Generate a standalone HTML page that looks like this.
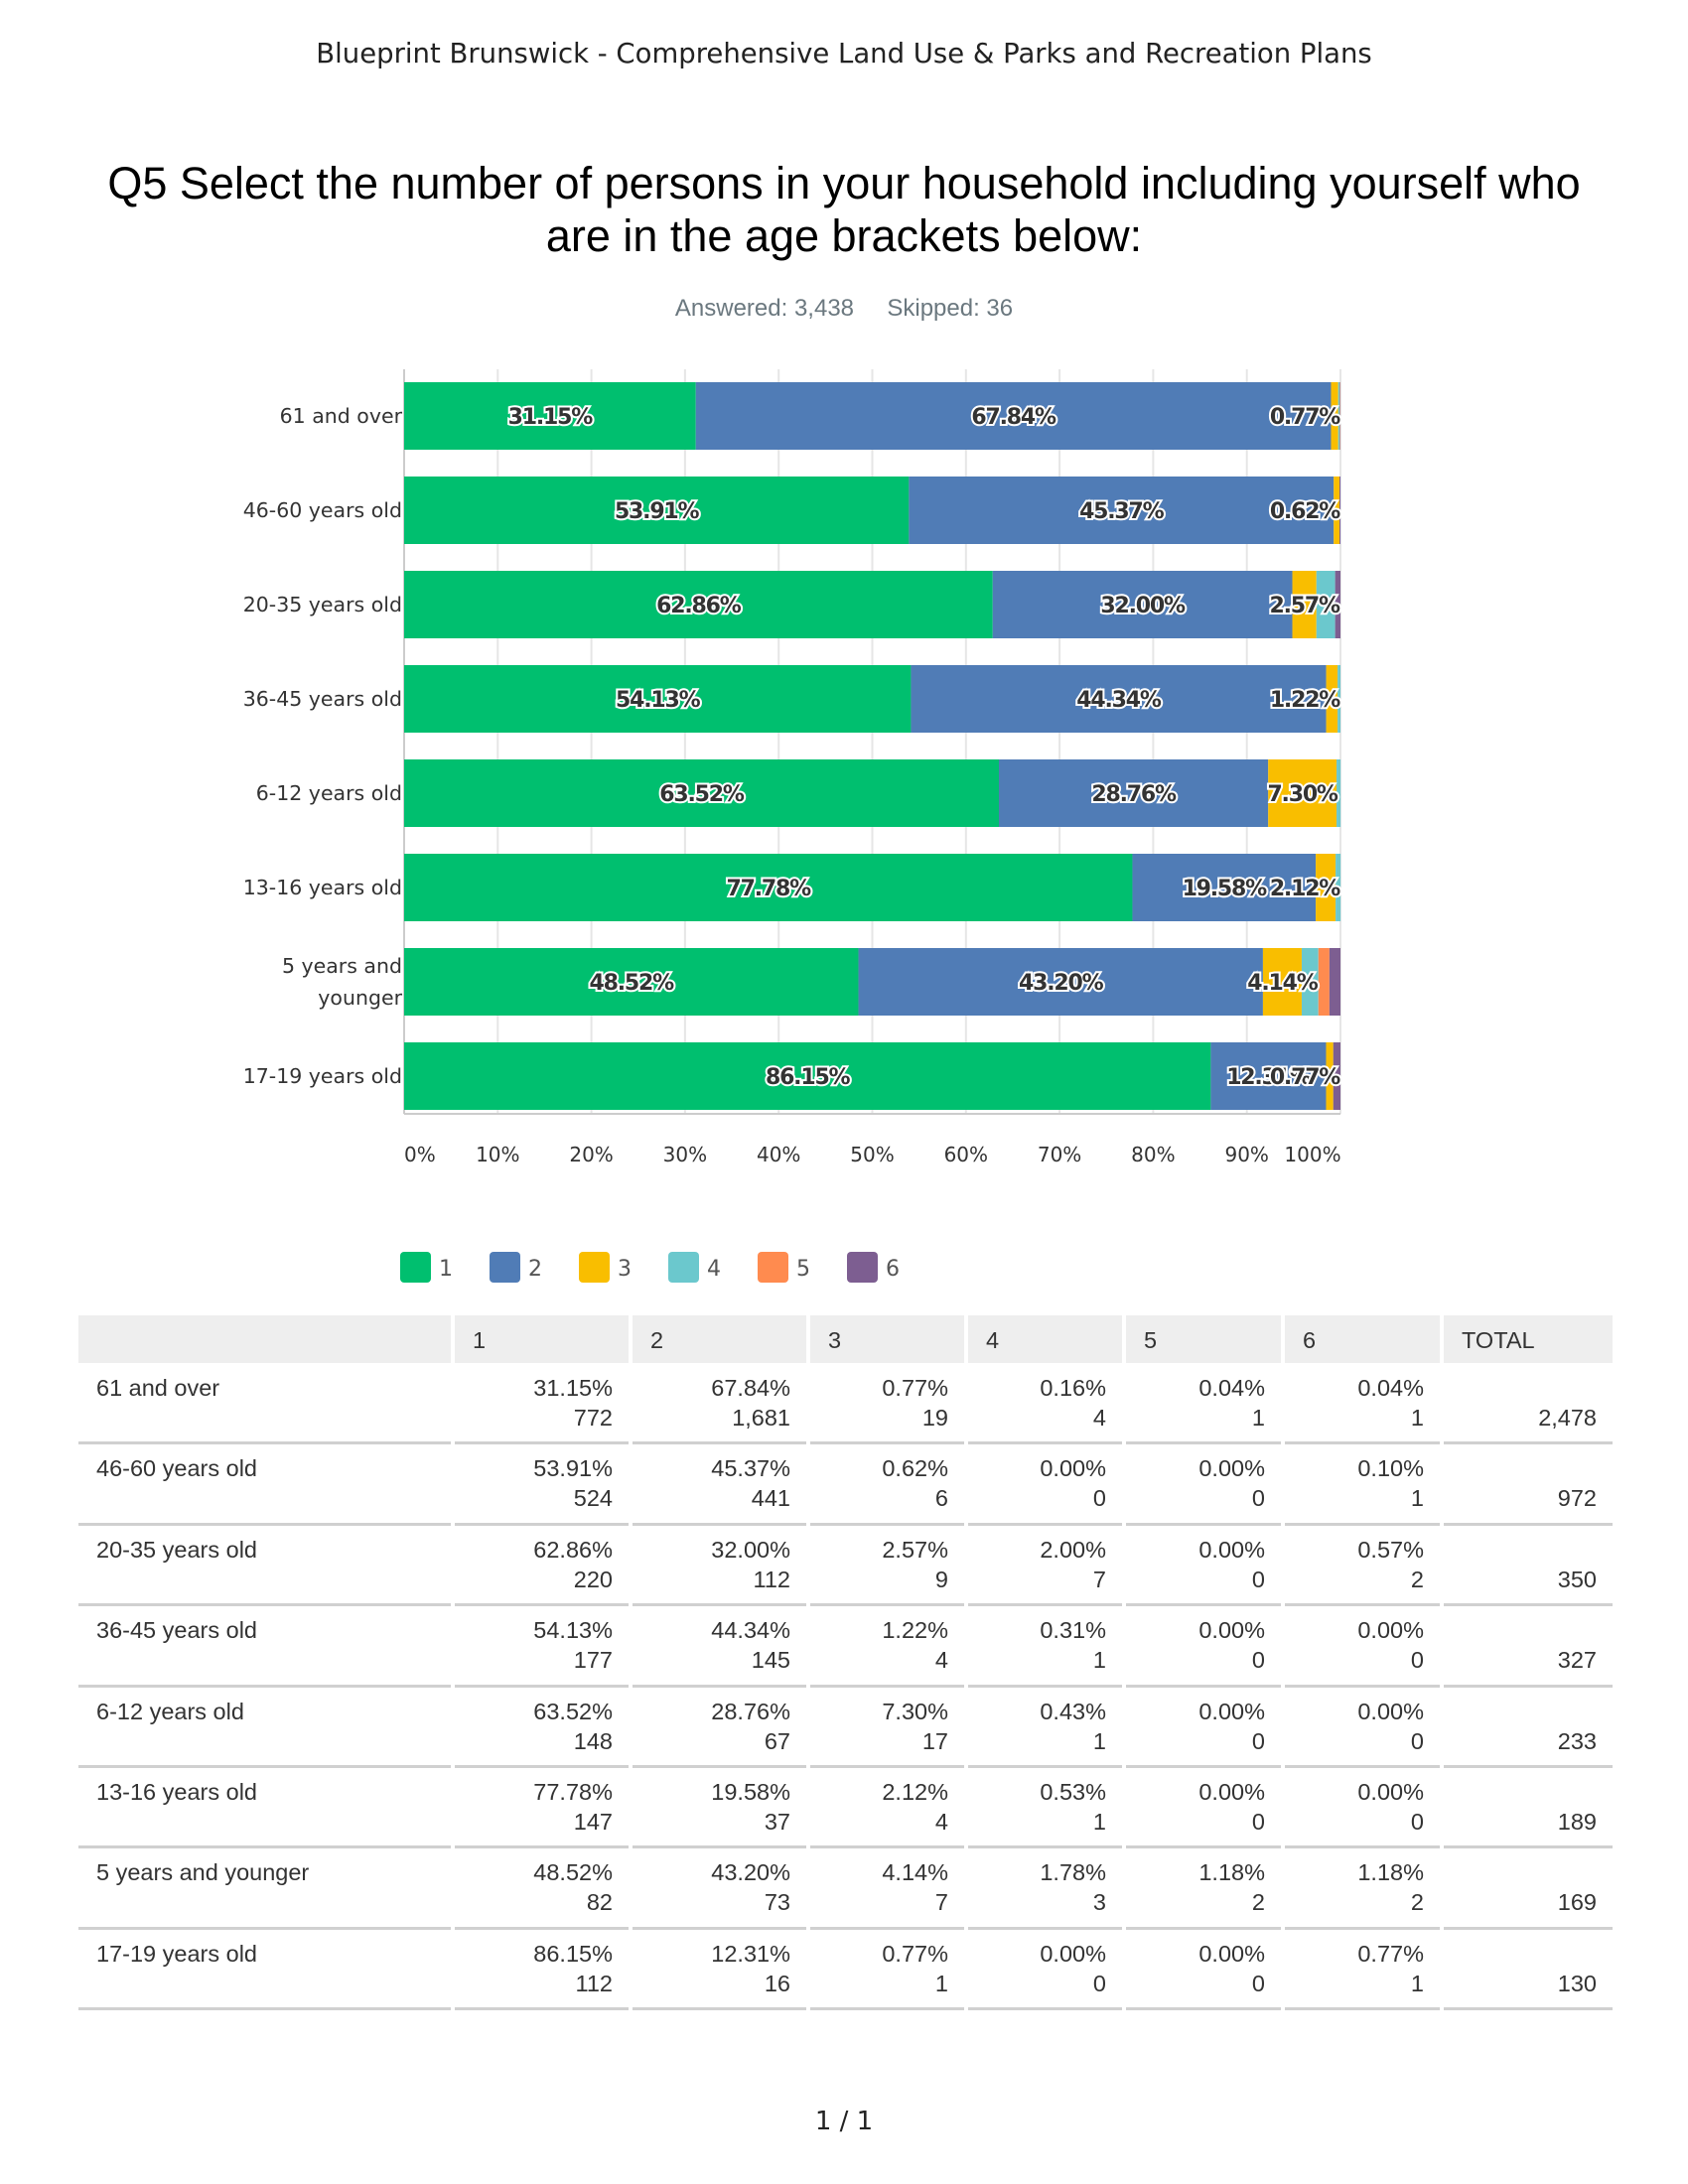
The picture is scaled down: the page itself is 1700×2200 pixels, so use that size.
<!DOCTYPE html>
<html><head><meta charset="utf-8"><style>
body{margin:0;width:1700px;height:2200px;background:#fff;position:relative;font-family:"Liberation Sans",sans-serif;color:#333;overflow:hidden}
.abs{position:absolute}
#tbl div{position:absolute;font-size:23.5px;color:#333}
</style></head><body>
<div class="abs" style="left:0;width:1700px;top:38px;text-align:center;font-family:'DejaVu Sans',sans-serif;font-size:27.5px;color:#222">Blueprint Brunswick - Comprehensive Land Use &amp; Parks and Recreation Plans</div>
<div class="abs" style="left:0;width:1700px;top:158px;text-align:center;font-size:45px;line-height:53px;color:#000">Q5 Select the number of persons in your household including yourself who<br>are in the age brackets below:</div>
<div class="abs" style="left:0;width:1700px;top:297px;text-align:center;font-size:24px;color:#6b787f">Answered: 3,438&nbsp;&nbsp;&nbsp;&nbsp;&nbsp;Skipped: 36</div>
<svg id="chart" class="abs" style="left:0;top:0" width="1700" height="1320"></svg>
<div id="tbl" class="abs" style="left:0;top:0;width:1700px;height:2100px"></div>
<div class="abs" style="left:0;width:1700px;top:2122px;text-align:center;font-family:'DejaVu Sans',sans-serif;font-size:26px;color:#222">1 / 1</div>
<script>
const categories=["61 and over","46-60 years old","20-35 years old","36-45 years old","6-12 years old","13-16 years old","5 years and younger","17-19 years old"];
const s1=[31.15,53.91,62.86,54.13,63.52,77.78,48.52,86.15];
const s2=[67.84,45.37,32.00,44.34,28.76,19.58,43.20,12.31];
const s3=[0.77,0.62,2.57,1.22,7.30,2.12,4.14,0.77];
const s4=[0.16,0.00,2.00,0.31,0.43,0.53,1.78,0.00];
const s5=[0.04,0.00,0.00,0.00,0.00,0.00,1.18,0.00];
const s6=[0.04,0.10,0.57,0.00,0.00,0.00,1.18,0.77];
const c1=[772,524,220,177,148,147,82,112];
const c2=[1681,441,112,145,67,37,73,16];
const c3=[19,6,9,4,17,4,7,1];
const c4=[4,0,7,1,1,1,3,0];
const c5=[1,0,0,0,0,0,2,0];
const c6=[1,1,2,0,0,0,2,1];
const totals=["2,478","972","350","327","233","189","169","130"];
const ticks=[0,10,20,30,40,50,60,70,80,90,100];
const seriesNames=["1","2","3","4","5","6"];
const colors=["#00bf6f","#507cb6","#f9be00","#6bc8cd","#ff8b4f","#7d5e91"];
const series=[s1,s2,s3,s4,s5,s6];
const counts=[c1,c2,c3,c4,c5,c6];
const NS="http://www.w3.org/2000/svg";
const svg=document.getElementById('chart');
const X0=407,X1=1350,Y0=372,pitch=95,barH=68,barTop=385;
const xs=v=>X0+(X1-X0)*v/100;
const yb=i=>barTop+pitch*i;
function mk(t,a){const e=document.createElementNS(NS,t);for(const k in a)e.setAttribute(k,a[k]);svg.appendChild(e);return e;}
ticks.forEach(t=>{
 const g=mk('line',{x1:xs(t),x2:xs(t),y1:Y0,y2:1122,stroke:'#e6e6e6','stroke-width':2});
 
 const tx=mk('text',{x:t===0?X0:(t===100?X1-28:xs(t)),y:1170,'font-size':20,fill:'#333','text-anchor':t===0?'start':'middle','font-family':'DejaVu Sans, sans-serif'});
 tx.textContent=t+'%';
});
const ax=mk('line',{x1:X0,x2:X0,y1:Y0,y2:1122,stroke:'#ccc','stroke-width':2});

const bx=mk('line',{x1:X0,x2:X1,y1:1122,y2:1122,stroke:'#ccc','stroke-width':2});

const labels=[];
categories.forEach((c,i)=>{
 const y=yb(i);
 const parts=c==="5 years and younger"?["5 years and","younger"]:[c];
 parts.forEach((p,k)=>{
  const t=mk('text',{x:405,y:y+barH/2+7+(parts.length>1?(k===0?-16:16):0),'font-size':20.5,fill:'#333','text-anchor':'end','font-family':'DejaVu Sans, sans-serif'});
  t.textContent=p;
 });
 let acc=0;
 series.forEach((s,j)=>{
  const v=s[i];const r=mk('rect',{x:xs(acc),y:y,width:xs(acc+v)-xs(acc),height:barH,fill:colors[j]});
  
  if(j<3&&v>0.5){
   let cx=(xs(acc)+xs(acc+v))/2;
   if(j===2)cx=Math.min(cx,X1-36);
   labels.push([cx,y+barH/2+8,v.toFixed(2)+'%']);
  }
  acc+=v;
 });
});
labels.forEach(l=>{
 const t=mk('text',{x:l[0],y:l[1],'font-size':22,'font-weight':'bold',fill:'#333',stroke:'#fff','stroke-width':4,'paint-order':'stroke','text-anchor':'middle','font-family':'DejaVu Sans, sans-serif','letter-spacing':'-1.2'});
 t.textContent=l[2];
});
seriesNames.forEach((n,j)=>{
 const x=403+90*j;
 const r=mk('rect',{x:x,y:1261,width:31,height:31,rx:4,fill:colors[j]});
 
 const t=mk('text',{x:x+39,y:1285,'font-size':22,fill:'#555','font-family':'DejaVu Sans, sans-serif'});
 t.textContent=n;
});
const tbl=document.getElementById('tbl');
const colB=[77,456,635,814,973,1132,1292,1452,1626];
const headers=["","1","2","3","4","5","6","TOTAL"];
const HT=1325,HB=1373,RH=81.4;
function div(css,txt,name){const d=document.createElement('div');d.style.cssText=css;if(txt!==undefined)d.textContent=txt;
 
 
 tbl.appendChild(d);return d;}
headers.forEach((h,k)=>{
 div(`left:${colB[k]+2}px;top:${HT}px;width:${colB[k+1]-colB[k]-4}px;height:${HB-HT}px;background:#eeeeee`,undefined,'header-cell');
 if(h)div(`left:${colB[k]+20}px;top:${HT+12}px`,h,'column-header');
});
categories.forEach((c,i)=>{
 const top=HB+RH*i;
 div(`left:${colB[0]+20}px;top:${top+12}px`,c,'row-label');
 for(let j=0;j<6;j++){
  const r=colB[j+2]-18;
  div(`left:${colB[j+1]}px;width:${r-colB[j+1]}px;text-align:right;top:${top+12}px`,series[j][i].toFixed(2)+'%','cell-percent');
  div(`left:${colB[j+1]}px;width:${r-colB[j+1]}px;text-align:right;top:${top+42}px`,counts[j][i].toLocaleString('en-US'),'cell-count');
 }
 div(`left:${colB[7]}px;width:${1608-colB[7]}px;text-align:right;top:${top+42}px`,totals[i],'cell-total');
 for(let k=0;k<8;k++)div(`left:${colB[k]+2}px;top:${top+RH-2}px;width:${colB[k+1]-colB[k]-4}px;height:3px;background:#d0d0d0`,undefined,'row-divider');
});
</script>
</body></html>
